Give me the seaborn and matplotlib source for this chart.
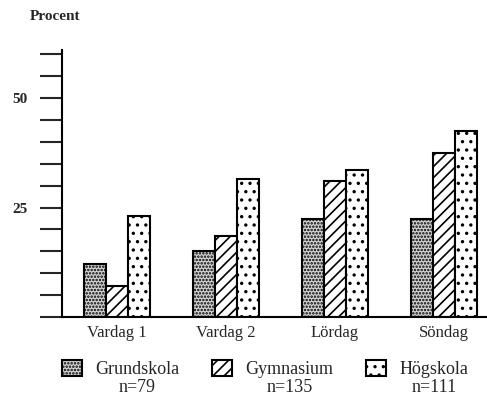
import numpy as np
import pandas as pd
import matplotlib
matplotlib.use('Agg')
import matplotlib.pyplot as plt
import seaborn as sns

# data
dagar = ['Vardag 1', 'Vardag 2', 'Lördag', 'Söndag']
skolor = ['Grundskola', 'Gymnasium', 'Högskola']
antal = ['n=79', 'n=135', 'n=111']
grundskola = [12, 15, 22.5, 22.5]
gymnasium = [7, 18.5, 31, 37.5]
hogskola = [23, 31.5, 33.5, 42.5]
ytick_varden = [0, 5, 10, 15, 20, 25, 30, 35, 40, 45, 50, 55, 60]
ytick_text = ['', '', '', '', '', '25', '', '', '', '', '50', '', '']

df = pd.DataFrame({
    'dag': dagar * 3,
    'skola': [s for s in skolor for _ in dagar],
    'procent': grundskola + gymnasium + hogskola,
})

sns.set_style('white')
plt.rcParams['font.family'] = ['Liberation Serif', 'DejaVu Serif']
plt.rcParams['hatch.linewidth'] = 1.2

fig = plt.figure(figsize=(4.87, 4), dpi=100)
ax = fig.add_axes([62 / 487, 83 / 400, 425 / 487, 267 / 400])

sns.barplot(data=df, x='dag', y='procent', hue='skola', order=dagar,
            hue_order=skolor, width=0.6, saturation=1,
            palette=['#d4d4d4', 'white', 'white'], edgecolor='black',
            linewidth=1.5, legend=False, ax=ax)

# mönster på staplarna
for cont, h in zip(ax.containers, ['.....', '///', '..']):
    for bar in cont:
        bar.set_hatch(h)

ax.set_xlim(-0.505, 3.394)
ax.set_ylim(0, 61)
ax.set_yticks(ytick_varden)
ax.set_yticklabels(ytick_text, fontweight='bold', fontsize=11)
ax.tick_params(axis='y', length=16, width=1.5, direction='out', pad=9, left=True)
ax.tick_params(axis='x', length=0, pad=6, labelsize=12)
ax.set_xlabel('')
ax.set_ylabel('')
sns.despine(ax=ax)
for s in ['left', 'bottom']:
    ax.spines[s].set_linewidth(1.5)
    ax.spines[s].set_color('black')

fig.text(30 / 487, 1 - 17 / 400, 'Procent', fontweight='bold', fontsize=11,
         va='center', ha='left')

leg = fig.legend(ax.containers, skolor, ncol=3, loc='upper left',
                 bbox_to_anchor=(62 / 487, 1 - 360 / 400), frameon=False,
                 borderpad=0, borderaxespad=0, fontsize=13,
                 handlelength=1.1, handleheight=1.0, handletextpad=0.75,
                 columnspacing=1.8)

# n= under varje legendtext
fig.canvas.draw()
r = fig.canvas.get_renderer()
for t, n in zip(leg.get_texts(), antal):
    bb = t.get_window_extent(r).transformed(fig.transFigure.inverted())
    fig.text((bb.x0 + bb.x1) / 2, bb.y0 - 0.002, n, ha='center', va='top',
             fontsize=13)

fig.savefig('out.png', dpi=100)
